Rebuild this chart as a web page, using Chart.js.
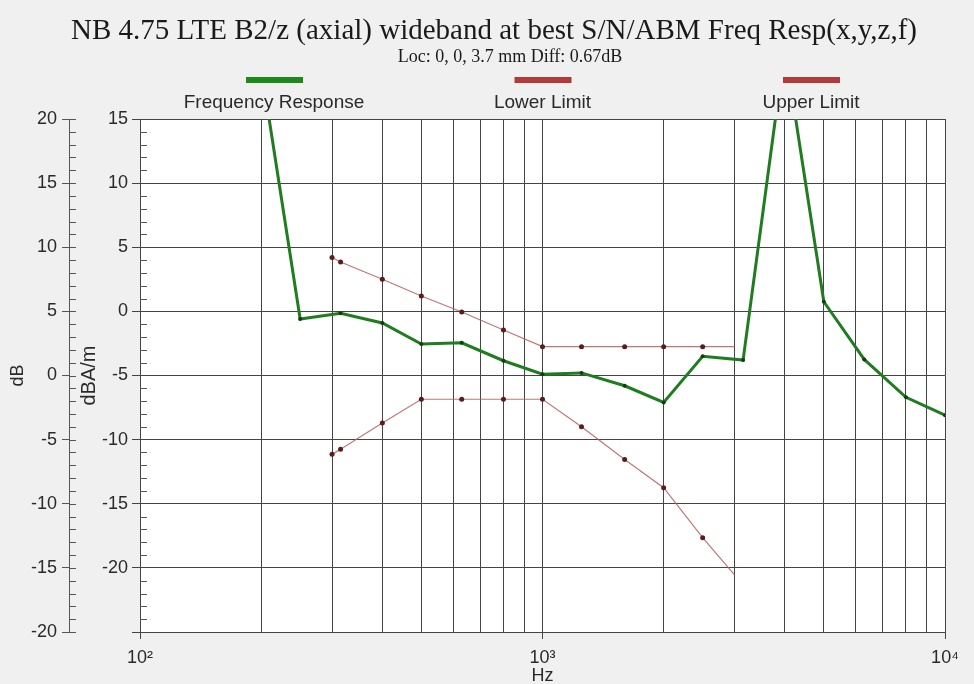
<!DOCTYPE html>
<html>
<head>
<meta charset="utf-8">
<title>NB 4.75 LTE B2/z frequency response</title>
<script src="https://cdn.jsdelivr.net/npm/chart.js@4.4.1/dist/chart.umd.min.js"></script>
<style>
  html, body { margin: 0; padding: 0; background: #f0f0f0; }
  canvas { display: block; }
</style>
</head>
<body>
<canvas id="freqChart" width="974" height="684"></canvas>
<script>
// measured frequency response (dBA/m) at the 1/3-octave points
const freqs = [200, 250, 315, 400, 500, 630, 800, 1000, 1250, 1600, 2000, 2500, 3150, 4000, 5000, 6300, 8000, 10000];
const response = [19, -0.6, -0.15, -0.9, -2.55, -2.45, -3.85, -4.9, -4.8, -5.8, -7.1, -3.5, -3.8, 20.5, 0.75, -3.75, -6.7, -8.1];

// limit mask
const limitFreqs = [300, 315, 400, 500, 630, 800, 1000, 1250, 1600, 2000, 2500, 3000];
const lowerLimit = [-11.15, -10.75, -8.7, -6.85, -6.85, -6.85, -6.85, -9.0, -11.55, -13.75, -17.65, -20.55];
const upperLimit = [4.2, 3.85, 2.5, 1.2, -0.05, -1.45, -2.75, -2.75, -2.75, -2.75, -2.75, -2.75];

// x axis: grid at every 1..9 x 10^n, labels only on decades
const gridFreqs = [100, 200, 300, 400, 500, 600, 700, 800, 900,
                   1000, 2000, 3000, 4000, 5000, 6000, 7000, 8000, 9000, 10000];
const decadeTicks = [100, 1000, 10000];
const decadeLabels = ['10\u00b2', '10\u00b3', '10\u2074'];

const titleText = 'NB 4.75 LTE B2/z (axial) wideband at best S/N/ABM Freq Resp(x,y,z,f)';
const subtitleText = 'Loc: 0, 0, 3.7 mm Diff: 0.67dB';

const gridColor = '#444';
const textColor = '#2a2a2a';

Chart.defaults.font.family = '"Liberation Sans", Arial, sans-serif';
Chart.defaults.font.size = 18;
Chart.defaults.color = textColor;

const toXY = (xs, ys) => xs.map((f, i) => ({ x: f, y: ys[i] }));
const lastHidden = arr => arr.map((_, i) => i === arr.length - 1 ? 0 : 2.5);

// white plot area on the grey page
const plotBackground = {
    id: 'plotBackground',
    beforeDraw(chart) {
        const { ctx, chartArea: a } = chart;
        ctx.save();
        ctx.fillStyle = '#ffffff';
        ctx.fillRect(a.left, a.top, a.right - a.left, a.bottom - a.top);
        ctx.restore();
    }
};

// 1-unit minor ticks on both y axes, pointing right
const minorTicks = {
    id: 'minorTicks',
    afterDraw(chart) {
        const ctx = chart.ctx;
        ctx.save();
        ctx.strokeStyle = '#555';
        ctx.lineWidth = 1;
        ['yDb', 'y'].forEach(id => {
            const s = chart.scales[id];
            for (let v = Math.ceil(s.min); v <= s.max; v++) {
                if (id === 'y' && v % 5 === 0) continue;
                const py = Math.round(s.getPixelForValue(v)) + 0.5;
                ctx.beginPath();
                ctx.moveTo(s.right, py);
                ctx.lineTo(s.right + 7, py);
                ctx.stroke();
            }
        });
        ctx.restore();
    }
};

// title, subtitle and the legend row (swatch above each label)
const header = {
    id: 'header',
    afterDraw(chart) {
        const { ctx, chartArea: a } = chart;
        ctx.save();
        ctx.textAlign = 'center';
        ctx.textBaseline = 'middle';
        ctx.fillStyle = '#1a1a1a';
        ctx.font = '29px "Liberation Serif", "Times New Roman", serif';
        ctx.fillText(titleText, 494, 31);
        ctx.font = '18px "Liberation Serif", "Times New Roman", serif';
        ctx.fillText(subtitleText, 510, 57);

        const mid = (a.left + a.right) / 2;
        chart.data.datasets.forEach((ds, i) => {
            const cx = mid + (i - 1) * 268.5;
            ctx.fillStyle = ds.legendColor;
            ctx.fillRect(cx - 28, 77, 57, 6);
            ctx.fillStyle = textColor;
            ctx.font = '19px "Liberation Sans", Arial, sans-serif';
            ctx.fillText(ds.label, cx, 103);
        });
        ctx.restore();
    }
};

new Chart(document.getElementById('freqChart'), {
    type: 'line',
    data: {
        datasets: [
            {
                label: 'Frequency Response',
                data: toXY(freqs, response),
                borderColor: '#1f7d1f',
                borderWidth: 3,
                pointRadius: 2,
                pointBackgroundColor: '#123d12',
                pointBorderWidth: 0,
                legendColor: '#1b8a1b',
                yAxisID: 'y'
            },
            {
                label: 'Lower Limit',
                data: toXY(limitFreqs, lowerLimit),
                borderColor: 'rgba(178, 96, 96, 0.85)',
                borderWidth: 1.2,
                pointRadius: lastHidden(lowerLimit),
                pointBackgroundColor: '#5a1c1c',
                pointBorderWidth: 0,
                legendColor: '#b23a3a',
                yAxisID: 'y'
            },
            {
                label: 'Upper Limit',
                data: toXY(limitFreqs, upperLimit),
                borderColor: 'rgba(178, 96, 96, 0.85)',
                borderWidth: 1.2,
                pointRadius: lastHidden(upperLimit),
                pointBackgroundColor: '#5a1c1c',
                pointBorderWidth: 0,
                legendColor: '#b23a3a',
                yAxisID: 'y'
            }
        ]
    },
    options: {
        responsive: false,
        animation: false,
        events: [],
        layout: { padding: { top: 119, right: 29, bottom: 0, left: 0 } },
        plugins: {
            legend: { display: false },
            title: { display: false },
            tooltip: { enabled: false }
        },
        scales: {
            x: {
                type: 'logarithmic',
                min: 100,
                max: 10000,
                afterBuildTicks: s => { s.ticks = gridFreqs.map(v => ({ value: v })); },
                afterFit: s => { s.height = 52; },
                ticks: {
                    autoSkip: false,
                    maxRotation: 0,
                    padding: 8,
                    callback: v => {
                        const i = decadeTicks.indexOf(v);
                        return i >= 0 ? decadeLabels[i] : '';
                    }
                },
                grid: {
                    color: gridColor,
                    tickLength: 7,
                    tickColor: c => decadeTicks.includes(c.tick && c.tick.value) ? gridColor : 'rgba(0,0,0,0)'
                },
                border: { color: gridColor },
                title: {
                    display: true,
                    text: 'Hz',
                    font: { size: 18, lineHeight: 1 },
                    padding: { top: 0, bottom: -1 }
                }
            },
            y: {
                position: 'left',
                weight: 0,
                min: -25,
                max: 15,
                afterFit: s => { s.width = 71; },
                ticks: {
                    stepSize: 5,
                    padding: 4,
                    callback: v => v === -25 ? '' : v
                },
                grid: { color: gridColor, tickLength: 8 },
                border: { color: gridColor },
                title: { display: true, text: 'dBA/m', font: { size: 20 }, padding: { top: 8 } }
            },
            yDb: {
                position: 'left',
                weight: 1,
                min: -20,
                max: 20,
                afterFit: s => { s.width = 69; },
                ticks: { stepSize: 5, padding: 5 },
                grid: { drawOnChartArea: false, color: '#555', tickLength: 7 },
                border: { color: '#555' },
                title: { display: true, text: 'dB', padding: { top: 7 } }
            }
        }
    },
    plugins: [plotBackground, minorTicks, header]
});
</script>
</body>
</html>
